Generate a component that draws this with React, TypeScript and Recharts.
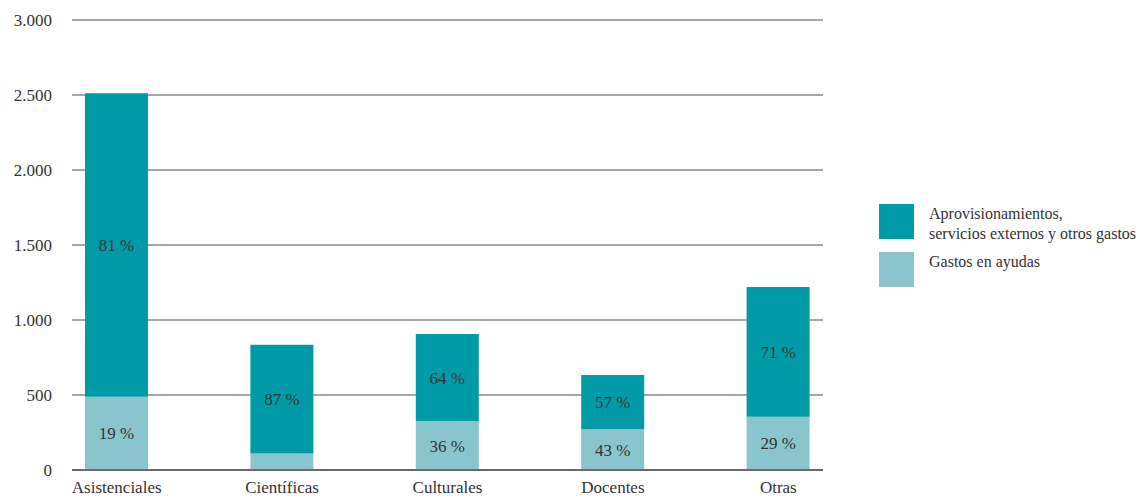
import { BarChart, Bar, XAxis, YAxis, CartesianGrid, Legend, LabelList } from "recharts";

const categories = ["Asistenciales", "Científicas", "Culturales", "Docentes", "Otras"];
// gasto por tipo de actividad
const ayudas = [488, 110, 326, 272, 355];
const aprovisionamientos = [2024, 725, 581, 361, 865];
const yTicks = [0, 500, 1000, 1500, 2000, 2500, 3000];

const TEAL = "#009ba6";
const LIGHT = "#8ac5cd";
const TEXT = "#333333";
const FONT = "Liberation Serif, DejaVu Serif, serif";

// segments this small get no percentage label
const MIN_LABEL = 150;

const pct = (v: number, total: number) => (v >= MIN_LABEL ? `${Math.round((v / total) * 100)} %` : "");

const data = categories.map((name, i) => {
  const total = ayudas[i] + aprovisionamientos[i];
  return {
    name,
    ayudas: ayudas[i],
    aprov: aprovisionamientos[i],
    ayudasPct: pct(ayudas[i], total),
    aprovPct: pct(aprovisionamientos[i], total),
  };
});

const thousands = (v: number) => String(v).replace(/\B(?=(\d{3})+(?!\d))/g, ".");

function LegendBox() {
  const row = (color: string, lines: string[]) => (
    <div style={{ display: "flex", alignItems: "flex-start", height: 48 }}>
      <div style={{ width: 35, height: 35, background: color, flex: "none" }} />
      <div style={{ marginLeft: 15, marginTop: 0, fontSize: 16, lineHeight: "20px", color: TEXT, whiteSpace: "nowrap" }}>
        {lines.map((l) => (
          <div key={l}>{l}</div>
        ))}
      </div>
    </div>
  );
  return (
    <div style={{ fontFamily: FONT }}>
      {row(TEAL, ["Aprovisionamientos,", "servicios externos y otros gastos"])}
      {row(LIGHT, ["Gastos en ayudas"])}
    </div>
  );
}

export default function App() {
  const labelStyle = { fill: TEXT, fontSize: 17, fontFamily: FONT };
  return (
    <div style={{ position: "absolute", left: 0, top: 0, width: 1140, height: 498, background: "#fff", fontFamily: FONT }}>
      <BarChart
        width={1140}
        height={498}
        data={data}
        margin={{ top: 20, right: 317, bottom: 0, left: 0 }}
        barSize={63}
        style={{ fontFamily: FONT }}
      >
        <CartesianGrid vertical={false} stroke="#8a8a8a" strokeWidth={1.5} />
        <XAxis
          dataKey="name"
          padding={{ left: -38, right: -38 }}
          height={28}
          axisLine={{ stroke: "#555555", strokeWidth: 1.5 }}
          tickLine={false}
          tickSize={0}
          tickMargin={11}
          tick={{ fill: TEXT, fontSize: 17, fontFamily: FONT }}
        />
        <YAxis
          width={72}
          domain={[0, 3000]}
          ticks={yTicks}
          tickFormatter={thousands}
          axisLine={false}
          tickLine={false}
          tickSize={0}
          tickMargin={20}
          tick={{ fill: TEXT, fontSize: 17, fontFamily: FONT }}
        />
        <Legend
          layout="vertical"
          align="center"
          verticalAlign="middle"
          content={() => <LegendBox />}
          wrapperStyle={{ left: 879, top: 204, width: 261 }}
        />
        <Bar dataKey="ayudas" stackId="a" fill={LIGHT} isAnimationActive={false}>
          <LabelList dataKey="ayudasPct" position="center" style={labelStyle} />
        </Bar>
        <Bar dataKey="aprov" stackId="a" fill={TEAL} isAnimationActive={false}>
          <LabelList dataKey="aprovPct" position="center" style={labelStyle} />
        </Bar>
      </BarChart>
    </div>
  );
}
